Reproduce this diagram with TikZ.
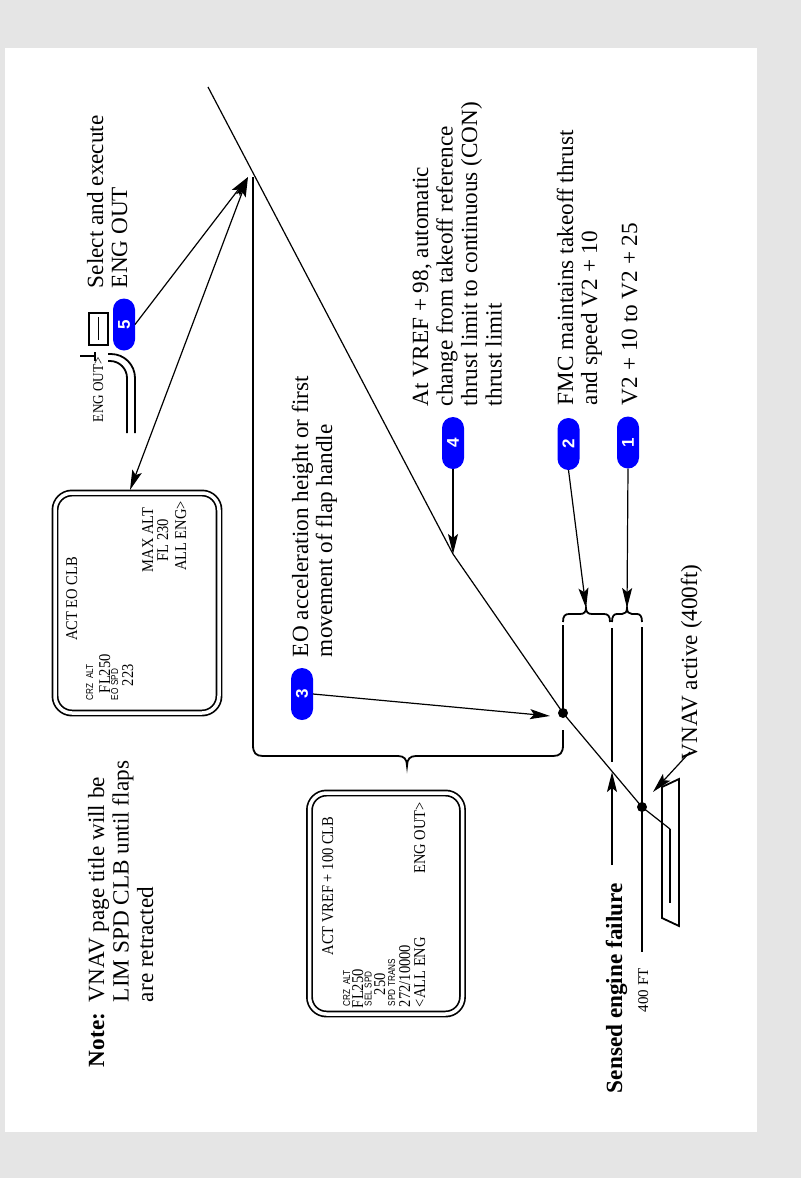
\documentclass[tikz,border=0pt]{standalone}
\usepackage{fontspec}
\usepackage{graphicx}
\setmainfont{Liberation Serif}
\newfontfamily\cdufont[FakeStretch=0.88]{Liberation Serif}
\newfontfamily\lblfont[FakeStretch=0.82]{Liberation Sans}
\newfontfamily\numfont{Liberation Sans}
\usetikzlibrary{arrows.meta}
\definecolor{pillblue}{RGB}{0,0,255}
\definecolor{framegray}{RGB}{229,229,229}

\begin{document}
\begin{tikzpicture}[x=1pt,y=-1pt,
  every node/.style={inner sep=0pt, outer sep=0pt},
  note/.style={rotate=90, anchor=base west, font=\fontsize{23.2}{25}\selectfont},
  notebold/.style={note, font=\bfseries\fontsize{23.2}{25}\selectfont},
  cdu/.style={rotate=90, anchor=base west, font=\cdufont\fontsize{16.5}{16.5}\selectfont},
  cduc/.style={cdu, anchor=base},
  cdue/.style={cdu, anchor=base east},
  lbl/.style={rotate=90, anchor=base west, font=\lblfont\fontsize{10}{10}\selectfont},
  pill/.style={fill=pillblue, rounded corners=11pt, minimum width=22pt, minimum height=52pt,
    text=white, font=\numfont\bfseries\fontsize{17}{17}\selectfont},
  ptr/.style={line width=1.2pt, -{Stealth[length=20pt,width=10pt,inset=4pt]}},
  dptr/.style={line width=1.2pt, {Stealth[length=20pt,width=10pt,inset=4pt]}-{Stealth[length=20pt,width=10pt,inset=4pt]}},
  flight/.style={line width=1.2pt},
  bar/.style={line width=2.2pt},
  brace/.style={line width=1.8pt},
  screen/.style={draw, line width=1.7pt, double=white, double distance=3.5pt, rounded corners=17pt},
  bezel/.style={line width=1.8pt},
  dot/.style={circle, fill, minimum size=10pt},
]
% frame
\fill[framegray] (0,0) rectangle (801,1178);
\fill[white] (5,48) rectangle (757,1132);
\useasboundingbox (0,0) rectangle (801,1178);

% ---------- flight profile ----------
\coordinate (top) at (208,87);
\coordinate (brk) at (453,554);
\coordinate (lift) at (670,829);
\coordinate (roll) at (670,903);
\node[dot] (dotA) at (563,713) {};
\node[dot] (dotB) at (642,807) {};
\draw[flight] (top) -- (brk) -- (dotA.center) -- (dotB.center) -- (lift);
\draw[line width=1.8pt] (lift) -- (roll);

% runway
\draw[line width=1.8pt] (662,787) -- (679,779) -- (679,926) -- (662,918) -- cycle;

% vertical reference bars
\coordinate (engout) at (253,177);
\draw[bar] (engout) -- (253,745);
\draw[bar] (563,625) -- (dotA.center);
\draw[bar] (612,628) -- (612,762);
\draw[bar] (642,627) -- (642,952);

% braces
\draw[brace] (253,745) .. controls (253,753) and (256,756) .. (263,756) -- (398,756)
  .. controls (404,756) and (407,759) .. (407,766)
  .. controls (407,759) and (410,756) .. (416,756) -- (553,756)
  .. controls (560,756) and (563,753) .. (563,745) -- (563,730);
\coordinate (tipA) at (586,608);
\coordinate (tipB) at (627,608);
\draw[brace] (563,622) .. controls (563,616) and (565,614) .. (569,614) -- (580,614)
  .. controls (584,614) and (586,612) .. (tipA)
  .. controls (586,612) and (588,614) .. (592,614) -- (604,614)
  .. controls (608,614) and (610,616) .. (610,622);
\draw[brace] (612,622) .. controls (612,616) and (614,614) .. (617,614) -- (622,614)
  .. controls (625,614) and (627,612) .. (tipB)
  .. controls (627,612) and (629,614) .. (632,614) -- (637,614)
  .. controls (640,614) and (642,616) .. (642,622);

% ---------- CDU pages ----------
\node[screen, minimum width=164pt, minimum height=220pt] (cduA) at (137,603) {};
\node[cduc] (a1) at (77,599) {ACT EO CLB};
\node[lbl] (a2) at (93,700) {CRZ\ \ ALT};
\node[cdu] (a3) at (110,693) {FL250};
\node[lbl] (a4) at (118,700) {EO SPD};
\node[cdu] (a5) at (133,686) {223};
\node[cduc] (a6) at (153,540) {MAX ALT};
\node[cduc] (a7) at (168,540) {FL 230};
\node[cduc] (a8) at (186,536) {ALL ENG>};

\node[screen, minimum width=153pt, minimum height=221pt] (cduB) at (386,903.5) {};
\node[cduc] (b1) at (333,886) {ACT VREF + 100 CLB};
\node[lbl] (b2) at (350,1006) {CRZ\ \ ALT};
\node[cdu] (b3) at (363,1008) {FL250};
\node[lbl] (b4) at (371.5,1006) {SEL SPD};
\node[cdu] (b5) at (385,995) {250};
\node[lbl] (b6) at (395,1006) {SPD TRANS};
\node[cdu] (b7) at (410,1007) {272/10000};
\node[cdu] (b8) at (425,1007) {<ALL ENG};
\node[cdue] (b9) at (425,802) {ENG OUT>};

% ENG OUT line select key
\node[cdue, font=\cdufont\fontsize{15}{15}\selectfont] (ek) at (103,357) {ENG OUT>};
\draw[bezel] (80,356) -- (95,356);
\draw[bezel] (95,352) -- (95,361);
\draw[bezel, rounded corners=24pt] (108,354) -- (135,354) -- (135,433);
\draw[bezel, rounded corners=17pt] (108,361) -- (127,361) -- (127,433);
\node[draw, line width=1.5pt, minimum width=19pt, minimum height=32pt] (key) at (98.5,329) {};
\draw[line width=1.5pt] (98.3,317) -- (98.3,340);

% ---------- numbered callouts ----------
\node[pill] (p5) at (124,324.5) {\rotatebox{90}{5}};
\node[pill] (p4) at (453,443) {\rotatebox{90}{4}};
\node[pill] (p3) at (302,694) {\rotatebox{90}{3}};
\node[pill] (p2) at (568.5,444) {\rotatebox{90}{2}};
\node[pill] (p1) at (628,442.5) {\rotatebox{90}{1}};

\coordinate (jt) at (248,177);
\coordinate (hit3) at (550,716);
\draw[ptr] (p5.east) -- (jt);
\draw[dptr] ([xshift=-7pt,yshift=3pt]cduA.north) -- (jt);
\draw[ptr] (p4.south) -- (brk);
\draw[ptr] (p3.east) -- (hit3);
\draw[ptr] (p2.south) -- (tipA);
\draw[ptr] (p1.south) -- (tipB);

\coordinate (vtail) at (690,752);
\coordinate (vhead) at (653,792);
\draw[ptr] (vtail) -- (vhead);
\coordinate (stail) at (612,865);
\coordinate (shead) at (612,772);
\draw[ptr] (stail) -- (shead);

% ---------- annotations ----------
\node[note] (s1) at (103,288) {Select and execute};
\node[note] (s2) at (127,288) {ENG OUT};
\node[note] (r1) at (428,406) {At VREF + 98, automatic};
\node[note] (r2) at (452.5,406) {change from takeoff reference};
\node[note] (r3) at (477,406) {thrust limit to continuous (CON)};
\node[note] (r4) at (501.5,406) {thrust limit};
\node[note] (e1) at (308,657) {EO acceleration height or first};
\node[note] (e2) at (332,657) {movement of flap handle};
\node[note] (f1) at (573,405) {FMC maintains takeoff thrust};
\node[note] (f2) at (597,405) {and speed V2 + 10};
\node[note] (v1) at (637,405) {V2 + 10 to V2 + 25};
\node[note] (vn) at (697,760) {VNAV active (400ft)};
\node[notebold] (sf) at (622,1093) {Sensed engine failure};
\node[rotate=90, anchor=base west, font=\fontsize{15}{15}\selectfont] (ft) at (648,1012) {400 FT};
\node[notebold] (nh) at (104,1067) {Note:};
\node[note] (n1) at (104,1002) {VNAV page title will be};
\node[note] (n2) at (128.5,1002) {LIM SPD CLB until flaps};
\node[note] (n3) at (153,1002) {are retracted};
\end{tikzpicture}
\end{document}
